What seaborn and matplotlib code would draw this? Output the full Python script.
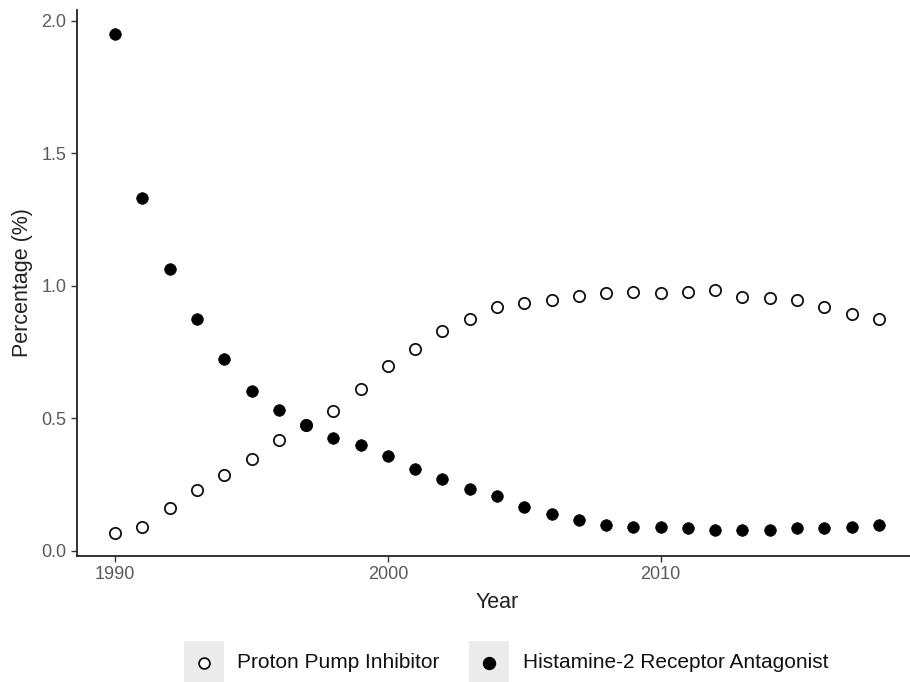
import matplotlib

matplotlib.use("Agg")
import matplotlib.pyplot as plt
import numpy as np
import pandas as pd
import seaborn as sns
from matplotlib.lines import Line2D
from matplotlib.patches import Rectangle

sns.set_theme(style="ticks")
plt.rcParams["font.family"] = ["Liberation Sans", "DejaVu Sans"]

years = list(range(1990, 2019))

ppi = [0.066, 0.091, 0.161, 0.229, 0.288, 0.347, 0.417, 0.475, 0.529, 0.610,
       0.697, 0.762, 0.830, 0.874, 0.919, 0.937, 0.948, 0.961, 0.972, 0.977,
       0.972, 0.978, 0.983, 0.960, 0.953, 0.947, 0.919, 0.896, 0.874]

h2ra = [1.950, 1.331, 1.063, 0.877, 0.725, 0.603, 0.533, 0.477, 0.428, 0.400,
        0.358, 0.311, 0.271, 0.234, 0.208, 0.167, 0.139, 0.116, 0.098, 0.092,
        0.092, 0.086, 0.081, 0.081, 0.081, 0.086, 0.086, 0.092, 0.098]

labels = ["Proton Pump Inhibitor", "Histamine-2 Receptor Antagonist"]

df = pd.DataFrame({"Year": years, labels[0]: ppi, labels[1]: h2ra})

W, H = 910, 682
fig = plt.figure(figsize=(W / 100, H / 100), dpi=100)
ax = fig.add_axes([77 / W, 1 - 556 / H, (917 - 77) / W, (556 - 10) / H])

sns.scatterplot(data=df, x="Year", y=labels[0], ax=ax, s=66,
                facecolor="white", edgecolor="#111111", linewidth=1.3, zorder=3)
sns.scatterplot(data=df, x="Year", y=labels[1], ax=ax, s=70,
                color="black", edgecolor="black", linewidth=0.5, zorder=4)

ax.set_xlim(1988.6, 2019.4)
ax.set_ylim(-0.019, 2.0415)
ax.set_xticks([1990, 2000, 2010])
ax.set_yticks([0.0, 0.5, 1.0, 1.5, 2.0])
ax.set_yticklabels(["0.0", "0.5", "1.0", "1.5", "2.0"])

ax.set_xlabel("Year", fontsize=15.5, color="#222222", labelpad=6)
ax.set_ylabel("Percentage (%)", fontsize=15.5, color="#222222", labelpad=6)
ax.tick_params(axis="both", labelsize=13, colors="#333333", labelcolor="#5a5a5a",
               length=4.5, width=1.0, pad=3)

for side in ["top", "right"]:
    ax.spines[side].set_visible(False)
for side in ["left", "bottom"]:
    ax.spines[side].set_color("#222222")
    ax.spines[side].set_linewidth(1.3)

# legend at the bottom, ggplot style keys
key_x = [184, 469]
text_x = [237, 523]
cy = 663
for i in range(2):
    fig.add_artist(Rectangle((key_x[i] / W, 1 - 682 / H), 40 / W, 41 / H,
                             transform=fig.transFigure, facecolor="#ebebeb",
                             edgecolor="none"))
    if i == 0:
        mk = Line2D([(key_x[i] + 20) / W], [1 - cy / H], marker="o", markersize=7.8,
                    markerfacecolor="white", markeredgecolor="#111111",
                    markeredgewidth=1.3, linestyle="none", transform=fig.transFigure)
    else:
        mk = Line2D([(key_x[i] + 20) / W], [1 - cy / H], marker="o", markersize=8.6,
                    markerfacecolor="black", markeredgecolor="black",
                    linestyle="none", transform=fig.transFigure)
    fig.add_artist(mk)
    fig.text(text_x[i] / W, 1 - cy / H, labels[i], fontsize=15.0, color="#111111",
             ha="left", va="center")

fig.savefig("out.png", dpi=100, facecolor="white")
